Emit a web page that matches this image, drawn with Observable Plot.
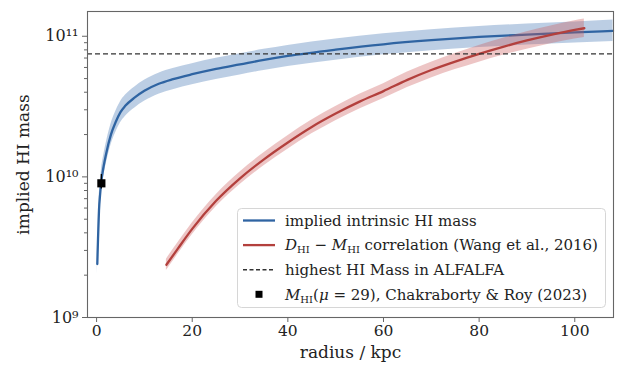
<!DOCTYPE html>
<html>
<head>
<meta charset="utf-8">
<script src="https://cdn.jsdelivr.net/npm/d3@7"></script>
<script src="https://cdn.jsdelivr.net/npm/@observablehq/plot@0.6"></script>
<style>
  body { margin: 0; background: #fff; }
  #chart { width: 618px; height: 366px; }
</style>
</head>
<body>
<div id="chart"></div>
<script>
// ---- data ----
// implied intrinsic HI mass: radius (kpc), log10 centre, log10 low, log10 high
const blueRadius = [0.15, 0.3, 0.5, 0.75, 1, 1.5, 2, 3, 4, 5, 6, 8, 10, 13, 16, 20, 25, 30, 35, 40, 50, 60, 70, 80, 90, 100, 108];
const blueLogM   = [9.38, 9.56, 9.76, 9.88, 9.97, 10.08, 10.165, 10.30, 10.39, 10.46, 10.505, 10.565, 10.612, 10.662, 10.695, 10.73, 10.768, 10.80, 10.832, 10.86, 10.905, 10.943, 10.972, 10.995, 11.012, 11.027, 11.038];
const blueLogLo  = [9.31, 9.485, 9.685, 9.805, 9.895, 10.005, 10.09, 10.225, 10.315, 10.385, 10.43, 10.49, 10.537, 10.587, 10.62, 10.655, 10.693, 10.725, 10.757, 10.785, 10.83, 10.868, 10.897, 10.92, 10.937, 10.952, 10.963];
const blueLogHi  = [9.45, 9.635, 9.835, 9.955, 10.045, 10.155, 10.24, 10.375, 10.465, 10.535, 10.58, 10.64, 10.687, 10.737, 10.77, 10.805, 10.843, 10.875, 10.907, 10.935, 10.98, 11.018, 11.047, 11.07, 11.087, 11.102, 11.115];

// D_HI - M_HI correlation (Wang et al., 2016)
const redRadius = [14.6, 17, 20, 25, 30, 35, 40, 45, 50, 55, 60, 65, 70, 75, 80, 85, 90, 95, 100, 102];
const redLogM   = [9.375, 9.49, 9.63, 9.83, 9.99, 10.125, 10.245, 10.355, 10.45, 10.535, 10.61, 10.69, 10.76, 10.82, 10.875, 10.925, 10.97, 11.01, 11.045, 11.057];
const redLogErr = [0.04, 0.041, 0.042, 0.043, 0.045, 0.046, 0.048, 0.049, 0.05, 0.052, 0.053, 0.055, 0.056, 0.057, 0.059, 0.06, 0.062, 0.063, 0.065, 0.065];

// highest HI mass in ALFALFA
const alfalfaMax = [7.5e10];

// Chakraborty & Roy (2023) point
const crRadius = [1.0];
const crMass = [9.0e9];
const crLo = [8.2e9];
const crHi = [1.04e10];

const xTicks = [0, 20, 40, 60, 80, 100];
const yTicks = [1e9, 1e10, 1e11];

// ---- build tables ----
const blue = blueRadius.map((r, i) => ({r, m: 10 ** blueLogM[i], lo: 10 ** blueLogLo[i], hi: 10 ** blueLogHi[i]}));
const red = redRadius.map((r, i) => ({r, m: 10 ** redLogM[i], lo: 10 ** (redLogM[i] - redLogErr[i]), hi: 10 ** (redLogM[i] + redLogErr[i])}));
const cr = crRadius.map((r, i) => ({r, m: crMass[i], lo: crLo[i], hi: crHi[i]}));
const minorTicks = [];
for (const d of [1e9, 1e10, 1e11]) for (let k = 2; k <= 9; k++) if (d * k < 1.5e11) minorTicks.push(d * k);

const supMap = {"0": "⁰", "1": "¹", "2": "²", "3": "³", "4": "⁴", "5": "⁵", "6": "⁶", "7": "⁷", "8": "⁸", "9": "⁹"};
const fmtPow = d => "10" + String(Math.round(Math.log10(d))).split("").map(c => supMap[c]).join("");

const BLUE = "#2f64a2", BLUE_FILL = "#4f7fb8";
const RED = "#b3403d", RED_FILL = "#cc5a5a";
const FONT = "DejaVu Serif, serif";

const chart = Plot.plot({
  width: 618, height: 366,
  marginLeft: 87, marginRight: 5, marginTop: 11, marginBottom: 49,
  style: {fontFamily: FONT, fontSize: "15px", color: "#222", background: "white"},
  x: {domain: [-1.9, 108.1]},
  y: {type: "log", domain: [1e9, 1.5e11]},
  marks: [
    Plot.areaY(blue, {x: "r", y1: "lo", y2: "hi", fill: BLUE_FILL, fillOpacity: 0.38, curve: "monotone-x"}),
    Plot.line(blue, {x: "r", y: "m", stroke: BLUE, strokeWidth: 2.3, curve: "monotone-x"}),
    Plot.areaY(red, {x: "r", y1: "lo", y2: "hi", fill: RED_FILL, fillOpacity: 0.35, curve: "monotone-x"}),
    Plot.line(red, {x: "r", y: "m", stroke: RED, strokeWidth: 2.3, curve: "monotone-x"}),
    Plot.ruleY(alfalfaMax, {stroke: "#333", strokeWidth: 1.4, strokeDasharray: "5,3"}),
    Plot.ruleX(cr, {x: "r", y1: "lo", y2: "hi", stroke: "#000", strokeWidth: 1.3}),
    Plot.dot(cr, {x: "r", y: "m", symbol: "square", r: 4.6, fill: "#000", stroke: null}),
    Plot.frame({stroke: "#666", strokeWidth: 1.1}),
    Plot.axisX({ticks: xTicks, tickSize: 5, tickPadding: 2, tickFormat: d => String(d), label: null, stroke: "#666", fontSize: 15.5}),
    Plot.axisY({ticks: yTicks, tickSize: 5, tickPadding: 4, tickFormat: fmtPow, label: null, stroke: "#666", fontSize: 16}),
    Plot.axisY({ticks: minorTicks, tickSize: 3, tickFormat: () => "", label: null, stroke: "#666"}),
    Plot.text(["radius / kpc"], {frameAnchor: "bottom", dy: 40, fontSize: 17, fill: "#222"}),
    Plot.text(["implied HI mass"], {frameAnchor: "left", textAnchor: "middle", rotate: -90, dx: -64, fontSize: 17, fill: "#222"})
  ]
});
document.getElementById("chart").appendChild(chart);

// ---- legend (SVG, inside the chart) ----
const legendItems = [
  {kind: "line", color: BLUE, parts: [{t: "implied intrinsic HI mass"}]},
  {kind: "line", color: RED, parts: [{t: "D", it: true}, {t: "HI", sub: true}, {t: " − "}, {t: "M", it: true}, {t: "HI", sub: true}, {t: " correlation (Wang et al., 2016)"}]},
  {kind: "dash", color: "#333", parts: [{t: "highest HI Mass in ALFALFA"}]},
  {kind: "square", color: "#000", parts: [{t: "M", it: true}, {t: "HI", sub: true}, {t: "("}, {t: "μ", it: true}, {t: " = 29), Chakraborty & Roy (2023)"}]}
];
const svg = d3.select(chart);
const lg = svg.append("g").attr("font-family", FONT).attr("font-size", 15).attr("fill", "#222").attr("text-anchor", "start");
lg.append("rect").attr("x", 237.5).attr("y", 208.5).attr("width", 368).attr("height", 99).attr("rx", 4)
  .attr("fill", "white").attr("fill-opacity", 0.85).attr("stroke", "#d6d6d6");
legendItems.forEach((d, i) => {
  const cy = 220.5 + i * 24.6;
  if (d.kind === "line") lg.append("line").attr("x1", 243).attr("x2", 275).attr("y1", cy).attr("y2", cy).attr("stroke", d.color).attr("stroke-width", 2.3);
  else if (d.kind === "dash") lg.append("line").attr("x1", 243).attr("x2", 275).attr("y1", cy).attr("y2", cy).attr("stroke", d.color).attr("stroke-width", 1.4).attr("stroke-dasharray", "4,2.5");
  else lg.append("rect").attr("x", 255.5).attr("y", cy - 3.5).attr("width", 7).attr("height", 7).attr("fill", d.color);
  const t = lg.append("text").attr("x", 285).attr("y", cy).attr("dy", "0.35em").attr("text-anchor", "start");
  let shifted = false;
  d.parts.forEach(p => {
    const s = t.append("tspan").text(p.t);
    if (p.it) s.attr("font-style", "italic");
    if (p.sub && !shifted) { s.attr("font-size", 10).attr("dy", 3); shifted = true; }
    else if (p.sub) s.attr("font-size", 10);
    else if (shifted) { s.attr("dy", -3); shifted = false; }
  });
});
</script>
</body>
</html>
